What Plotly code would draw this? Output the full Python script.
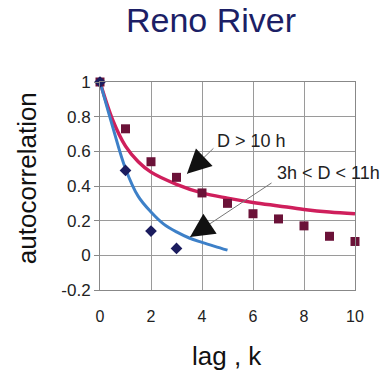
import plotly.graph_objects as go

# ---- data ----
lags_sq = [0, 1, 2, 3, 4, 5, 6, 7, 8, 9, 10]
acf_long = [1.0, 0.73, 0.54, 0.45, 0.36, 0.30, 0.24, 0.21, 0.17, 0.11, 0.08]

lags_dm = [0, 1, 2, 3]
acf_short = [1.0, 0.49, 0.14, 0.04]

fit_long_x = [0, 0.5, 1, 1.5, 2, 3, 4, 5, 6, 7, 8, 9, 10]
fit_long_y = [1.0, 0.78, 0.63, 0.54, 0.48, 0.41, 0.36, 0.33, 0.305, 0.285, 0.265, 0.25, 0.24]

fit_short_x = [0, 0.5, 1, 1.5, 2, 2.5, 3, 3.5, 4, 4.5, 5]
fit_short_y = [1.0, 0.74, 0.50, 0.34, 0.25, 0.18, 0.135, 0.10, 0.075, 0.052, 0.03]

x_ticks = [0, 2, 4, 6, 8, 10]
y_ticks = [-0.2, 0, 0.2, 0.4, 0.6, 0.8, 1]
y_tick_text = ["-0.2", "0", "0.2", "0.4", "0.6", "0.8", "1"]

FONT = "Liberation Sans, Arial, sans-serif"

fig = go.Figure()
fig.add_trace(go.Scatter(x=fit_long_x, y=fit_long_y, mode="lines", line_shape="spline",
                         line=dict(color="#cf1f5c", width=3.5), cliponaxis=False, showlegend=False))
fig.add_trace(go.Scatter(x=fit_short_x, y=fit_short_y, mode="lines", line_shape="spline",
                         line=dict(color="#3d80c8", width=3), cliponaxis=False, showlegend=False))
fig.add_trace(go.Scatter(x=lags_sq, y=acf_long, mode="markers",
                         marker=dict(symbol="square", size=9, color="#6b1238"),
                         cliponaxis=False, showlegend=False))
fig.add_trace(go.Scatter(x=lags_dm, y=acf_short, mode="markers",
                         marker=dict(symbol="diamond", size=9, color="#1b1c5e"),
                         cliponaxis=False, showlegend=False))

annotations = [
    # title
    dict(text="Reno River", x=0.435, y=1.30, xref="paper", yref="paper", showarrow=False,
         xanchor="center", yanchor="middle", font=dict(size=34, color="#1c1f66", family=FONT)),
    # axis titles
    dict(text="autocorrelation", x=-0.286, y=0.538, xref="paper", yref="paper", showarrow=False,
         textangle=-90, xanchor="center", yanchor="middle", font=dict(size=26, color="#111", family=FONT)),
    dict(text="lag , k", x=0.498, y=-0.317, xref="paper", yref="paper", showarrow=False,
         xanchor="center", yanchor="middle", font=dict(size=26, color="#111", family=FONT)),
    # labels
    dict(text="D > 10 h", x=5.96, y=0.657, xref="x", yref="y", showarrow=False,
         xanchor="center", yanchor="middle", font=dict(size=18, color="#222", family=FONT)),
    dict(text="3h < D < 11h", x=8.98, y=0.475, xref="x", yref="y", showarrow=False,
         xanchor="center", yanchor="middle", font=dict(size=18, color="#222", family=FONT)),
    # thin leader lines
    dict(text="", x=3.41, y=0.47, xref="x", yref="y", ax=28, ay=-27, showarrow=True,
         arrowhead=0, arrowwidth=1, arrowcolor="#777"),
    dict(text="", x=3.53, y=0.106, xref="x", yref="y", ax=83, ay=-55, showarrow=True,
         arrowhead=0, arrowwidth=1, arrowcolor="#777"),
    # heads
    dict(text="", x=3.41, y=0.47, xref="x", yref="y", ax=13, ay=-12.5, showarrow=True,
         arrowhead=2, arrowsize=3.2, arrowwidth=1.5, arrowcolor="#111"),
    dict(text="", x=3.53, y=0.106, xref="x", yref="y", ax=15, ay=-10, showarrow=True,
         arrowhead=2, arrowsize=3.2, arrowwidth=1.5, arrowcolor="#111"),
]

fig.update_layout(
    width=387, height=374,
    margin=dict(l=100, r=32, t=82, b=84),
    paper_bgcolor="white", plot_bgcolor="white",
    font=dict(family=FONT, color="#222"),
    annotations=annotations,
    showlegend=False,
)
fig.update_xaxes(range=[0, 10], tickvals=x_ticks, ticks="", ticklabelstandoff=12,
                 tickfont=dict(size=16, color="#222"),
                 showgrid=True, gridcolor="#9a9a9a", gridwidth=1, zeroline=False,
                 showline=True, mirror=True, linecolor="#888", linewidth=1)
fig.update_yaxes(range=[-0.2, 1], tickvals=y_ticks, ticktext=y_tick_text, ticks="outside",
                 ticklen=5, tickcolor="#888", tickfont=dict(size=17, color="#222"),
                 showgrid=True, gridcolor="#9a9a9a", gridwidth=1, zeroline=False,
                 showline=True, mirror=True, linecolor="#888", linewidth=1)

fig.write_html("out.html")
